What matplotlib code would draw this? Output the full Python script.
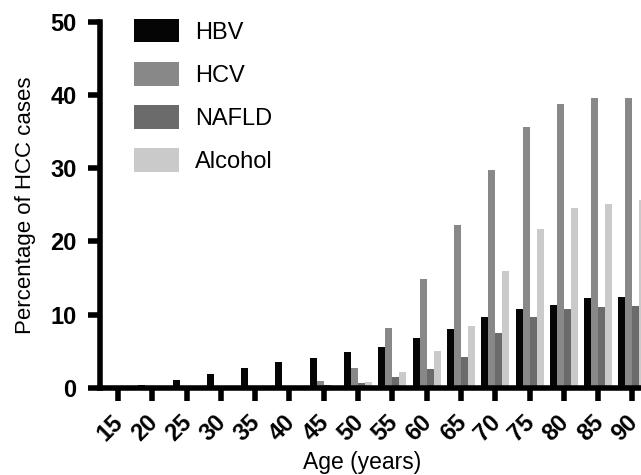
import numpy as np
import matplotlib
matplotlib.use("Agg")
import matplotlib.pyplot as plt

plt.rcParams['font.family'] = ['Liberation Sans', 'DejaVu Sans']

# age groups (years)
ages = [15, 20, 25, 30, 35, 40, 45, 50, 55, 60, 65, 70, 75, 80, 85, 90]

# percentage of HCC cases by aetiology
hbv = [0.0, 0.4, 1.1, 1.8, 2.7, 3.5, 4.1, 4.9, 5.6, 6.8, 8.0, 9.7, 10.7, 11.3, 12.2, 12.4]
hcv = [0.0, 0.0, 0.0, 0.0, 0.0, 0.1, 0.9, 2.7, 8.2, 14.9, 22.3, 29.8, 35.7, 38.8, 39.6, 39.6]
nafld = [0.0, 0.0, 0.0, 0.0, 0.0, 0.0, 0.4, 0.6, 1.5, 2.5, 4.2, 7.5, 9.6, 10.7, 11.0, 11.2]
alcohol = [0.0, 0.0, 0.0, 0.0, 0.0, 0.0, 0.2, 0.8, 2.1, 5.0, 8.5, 16.0, 21.7, 24.6, 25.2, 25.7]

series = [("HBV", hbv, "#050505"),
          ("HCV", hcv, "#888888"),
          ("NAFLD", nafld, "#6b6b6b"),
          ("Alcohol", alcohol, "#cacaca")]

fig = plt.figure(figsize=(6.41, 4.75), dpi=100)
ax = fig.add_axes([0.156, 0.184, 0.844, 0.769])

x = np.arange(len(ages))
w = 0.204
for i, (name, vals, col) in enumerate(series):
    ax.bar(x + (i - 1.5) * w, vals, width=w, color=col, label=name, zorder=2)

ax.set_xlim(-0.525, 15.25)
ax.set_ylim(0, 50)
ax.set_yticks([0, 10, 20, 30, 40, 50])
ax.set_xticks(x)
ax.set_xticklabels([str(a) for a in ages], rotation=45, ha='right', va='center_baseline',
                   rotation_mode='anchor', fontweight='bold', fontsize=17)
for lab in ax.get_yticklabels():
    lab.set_fontweight('bold')
    lab.set_fontsize(17)

for s in ['top', 'right']:
    ax.spines[s].set_visible(False)
for s in ['left', 'bottom']:
    ax.spines[s].set_linewidth(4)
ax.tick_params(axis='both', direction='out', length=9, width=4, pad=8)
ax.tick_params(axis='x', pad=12)

ax.set_ylabel("Percentage of HCC cases", fontsize=16, labelpad=10)
fig.text(362 / 641, 1 - 462 / 475, "Age (years)", fontsize=16.5, ha='center', va='center')

leg = ax.legend(loc='upper left', bbox_to_anchor=(0.045, 1.035), frameon=False,
                fontsize=17, handlelength=1.9, handleheight=1.15,
                labelspacing=0.78, handletextpad=0.7, borderaxespad=0)

fig.savefig("out.png", dpi=100)
